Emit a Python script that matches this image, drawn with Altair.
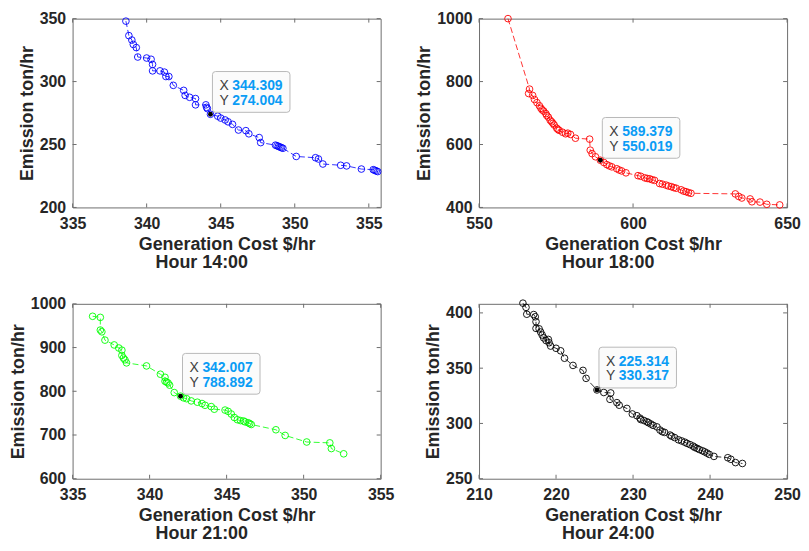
import altair as alt
import pandas as pd

# ---------------- data ----------------
# Hour 14:00 (blue)
cost14 = [338.6, 338.8, 339.0, 339.1, 339.3, 339.4, 340.0, 340.3, 340.4, 340.4,
          340.9, 341.2, 341.3, 341.5, 341.8, 342.5, 342.6, 342.9, 343.3, 343.3,
          344.0, 344.05, 344.1, 344.309, 344.8, 345.0, 345.3, 345.5, 345.8, 346.2,
          346.7, 346.9, 347.6, 347.7, 348.7, 348.8, 348.9, 349.0, 349.1, 349.2,
          350.1, 351.4, 351.6, 351.9, 353.1, 353.5, 354.5, 355.3, 355.4, 355.5, 355.6]
emis14 = [348, 336.5, 333, 329.5, 327, 319.5, 318.7, 317.7, 313.6, 308.5,
          308.5, 307.5, 304, 304, 297, 293, 289, 287.5, 286.5, 281.5,
          281.5, 279.5, 278.5, 274.004, 272.5, 271, 269.5, 268, 266, 261.5,
          261, 258.5, 255.5, 251.5, 249.5, 249, 248.5, 248, 247.5, 247,
          240.5, 239.5, 238.5, 234.5, 233.5, 233, 230.5, 230, 229.5, 229, 228.5]
tip14 = (344.309, 274.004)

# Hour 18:00 (red)
cost18 = [559.4, 566.4, 566.1, 567.4, 568.0, 568.8, 569.6, 570.1, 570.5, 571.0,
          571.7, 572.0, 572.5, 573.1, 573.6, 574.0, 574.4, 575.2, 575.6, 576.0,
          577.1, 578.1, 578.8, 579.7, 581.3, 585.9, 586.1, 586.7, 587.8, 589.379,
          590.5, 591.5, 592.3, 593.1, 594.7, 595.5, 596.3, 597.7, 601.6, 602.5,
          603.8, 604.6, 605.4, 606.2, 607.0, 608.6, 609.5, 610.7, 611.5, 612.4,
          613.2, 614.0, 615.6, 616.4, 617.2, 618.0, 618.8, 633.2, 634.3, 635.3,
          638.0, 638.6, 641.2, 643.4, 647.6]
emis18 = [1000, 776, 762, 756, 743, 733, 723, 715, 710, 706,
          698, 692, 687, 677, 672, 667, 662, 652, 648, 645,
          639, 634, 636, 632, 620, 617, 582, 571, 561, 550.019,
          543, 536, 532, 529, 523, 519, 516, 510, 501, 499,
          494, 492, 491, 488, 486, 476, 474, 471, 468, 466,
          463, 461, 456, 452, 450, 447, 445, 443, 435, 430,
          427, 418, 417, 410, 408]
tip18 = (589.379, 550.019)

# Hour 21:00 (green)
cost21 = [336.3, 336.8, 336.8, 336.9, 337.1, 337.7, 338.0, 338.2, 338.2, 338.3,
          338.4, 338.5, 339.8, 340.7, 341.0, 341.0, 341.1, 341.2, 341.3, 341.6,
          342.007, 342.2, 342.4, 342.7, 343.1, 343.4, 343.6, 344.0, 344.2, 344.9,
          345.1, 345.3, 345.5, 345.7, 345.9, 346.1, 346.2, 346.4, 346.5, 346.6,
          348.2, 348.8, 350.2, 351.7, 351.8, 352.6]
emis21 = [971.5, 969, 940, 936, 917, 906, 899, 894, 882, 876,
          872, 865, 858, 839, 832, 823, 821, 819, 814, 797,
          788.892, 785, 783, 778, 775, 772, 768, 765, 759, 757,
          754, 748, 740, 735, 733, 732, 730, 728, 726, 724,
          712, 699, 684, 682, 669, 657]
tip21 = (342.007, 788.892)

# Hour 24:00 (black)
cost24 = [215.7, 216.1, 216.2, 217.1, 217.3, 217.4, 217.4, 217.8, 218.0, 218.2,
          218.4, 218.7, 219.0, 219.1, 219.3, 220.0, 220.6, 221.1, 222.2, 223.5,
          223.9, 225.314, 226.2, 227.1, 227.0, 227.9, 228.2, 229.2, 229.9, 230.5,
          230.9, 231.0, 231.4, 231.8, 232.0, 232.3, 232.6, 233.1, 233.5, 233.8,
          234.1, 234.8, 235.0, 235.4, 235.9, 236.3, 236.7, 237.0, 237.4, 237.8,
          238.0, 238.3, 238.6, 239.0, 239.3, 239.6, 239.9, 240.5, 242.3, 242.7,
          243.3, 244.2]
emis24 = [408.8, 405, 398.8, 398.5, 396.5, 392, 386, 385.6, 382.7, 380,
          377.4, 375, 376, 373, 370, 368, 365.7, 359, 352.5, 348,
          340.8, 330.317, 328, 327.6, 321.8, 318.8, 316.5, 313.6, 308.6, 307,
          304.8, 303.5, 302.7, 301.5, 300.7, 299.5, 298.3, 296.9, 294, 292.5,
          291.9, 289.5, 288.5, 287.2, 285.2, 284.2, 283.1, 282.0, 280.8, 279.5,
          278.4, 277.5, 276.4, 275.3, 274.3, 273.2, 272, 270.2, 269, 267.6,
          264.6, 263.8]
tip24 = (225.314, 330.317)

hours = ["Hour 14:00", "Hour 18:00", "Hour 21:00", "Hour 24:00"]
colors = ["#0000FF", "#FF0000", "#00FF00", "#000000"]
x_domains = [[335, 355.8], [550, 650], [335, 355], [210, 250]]
y_domains = [[200, 350], [400, 1000], [600, 1000], [250, 408.2]]
x_ticks = [[335, 340, 345, 350, 355], [550, 600, 650], [335, 340, 345, 350, 355],
           [210, 220, 230, 240, 250]]
y_ticks = [[200, 250, 300, 350], [400, 600, 800, 1000], [600, 700, 800, 900, 1000],
           [250, 300, 350, 400]]

# ---------------- styling ----------------
FONT = "Liberation Sans"
TXT = "#262626"
FRAME = "#6e6e6e"
TIPBLUE = "#0A9CF5"
BOX_PATH = ("M-0.92,-0.526 H0.92 Q1,-0.526 1,-0.446 V0.446 Q1,0.526 0.92,0.526 "
            "H-0.92 Q-1,0.526 -1,0.446 V-0.446 Q-1,-0.526 -0.92,-0.526 Z")


def panel(cost, emis, tip, color, xdom, ydom, xt, yt, hour, w, h):
    df = pd.DataFrame({"x": cost, "y": emis, "i": list(range(len(cost)))})
    tipdf = pd.DataFrame({"x": [tip[0]], "y": [tip[1]]})
    xtdf = pd.DataFrame({"x": xt})
    ytdf = pd.DataFrame({"y": yt})
    xs = alt.Scale(domain=xdom, nice=False, zero=False)
    ys = alt.Scale(domain=ydom, nice=False, zero=False)
    xaxis = alt.Axis(values=xt, format="d", title="Generation Cost $/hr", grid=False,
                     ticks=False, tickSize=0, domain=False, labelFlush=False,
                     labelFont=FONT, labelFontSize=16, labelFontWeight="bold",
                     labelColor=TXT, labelPadding=8, titleFont=FONT, titleFontSize=18,
                     titleFontWeight="bold", titleColor=TXT, titlePadding=4)
    yaxis = alt.Axis(values=yt, format="d", title="Emission ton/hr", grid=False,
                     ticks=False, tickSize=0, domain=False, labelFont=FONT,
                     labelFontSize=16, labelFontWeight="bold", labelColor=TXT,
                     labelPadding=7, titleFont=FONT, titleFontSize=18,
                     titleFontWeight="bold", titleColor=TXT, titlePadding=3)
    X = lambda: alt.X("x:Q", scale=xs, axis=xaxis, title="Generation Cost $/hr")
    Y = lambda: alt.Y("y:Q", scale=ys, axis=yaxis, title="Emission ton/hr")

    line = alt.Chart(df).mark_line(color=color, strokeWidth=0.8, strokeDash=[6, 3]).encode(
        x=X(), y=Y(), order="i:Q")
    pts = alt.Chart(df).mark_point(shape="circle", filled=False, size=45, strokeWidth=0.9,
                                   color=color, opacity=1).encode(x=X(), y=Y())
    tb = alt.Chart(xtdf).mark_rule(color=FRAME, strokeWidth=1).encode(
        x=X(), y=alt.value(h), y2=alt.value(h - 4))
    tt = alt.Chart(xtdf).mark_rule(color=FRAME, strokeWidth=1).encode(
        x=X(), y=alt.value(0), y2=alt.value(4))
    tl = alt.Chart(ytdf).mark_rule(color=FRAME, strokeWidth=1).encode(
        y=Y(), x=alt.value(0), x2=alt.value(4))
    tr = alt.Chart(ytdf).mark_rule(color=FRAME, strokeWidth=1).encode(
        y=Y(), x=alt.value(w), x2=alt.value(w - 4))
    dot = alt.Chart(tipdf).mark_point(shape="circle", filled=True, color="#000000",
                                      size=24, opacity=1).encode(x=X(), y=Y())
    box = alt.Chart(tipdf).mark_point(shape=BOX_PATH, size=6084, filled=True,
                                      fill="#fbfbfb", stroke="#b8b8b8", strokeWidth=1,
                                      opacity=1, xOffset=41, yOffset=-22.5).encode(x=X(), y=Y())
    lx = alt.Chart(tipdf).mark_text(text="X", align="left", baseline="middle", dx=9,
                                    dy=-28.5, font=FONT, fontSize=14,
                                    color="#404040").encode(x=X(), y=Y())
    ly = alt.Chart(tipdf).mark_text(text="Y", align="left", baseline="middle", dx=9,
                                    dy=-13.5, font=FONT, fontSize=14,
                                    color="#404040").encode(x=X(), y=Y())
    vx = alt.Chart(tipdf).mark_text(align="left", baseline="middle", dx=22, dy=-28.5,
                                    font=FONT, fontSize=14, fontWeight="bold",
                                    color=TIPBLUE).encode(
        x=X(), y=Y(), text=alt.Text("x:Q", format=".3f"))
    vy = alt.Chart(tipdf).mark_text(align="left", baseline="middle", dx=22, dy=-13.5,
                                    font=FONT, fontSize=14, fontWeight="bold",
                                    color=TIPBLUE).encode(
        x=X(), y=Y(), text=alt.Text("y:Q", format=".3f"))

    return alt.layer(line, pts, tb, tt, tl, tr, dot, box, lx, ly, vx, vy).properties(
        width=w, height=h,
        title=alt.TitleParams(hour, orient="bottom", anchor="middle", frame="group",
                              dx=-25, offset=1, font=FONT, fontSize=18,
                              fontWeight="bold", color=TXT))


W1, W2, H1, H2 = 310, 310, 190, 176
series = [(cost14, emis14, tip14), (cost18, emis18, tip18),
          (cost21, emis21, tip21), (cost24, emis24, tip24)]
panels = []
for k, (c, e, t) in enumerate(series):
    w = W1 if k % 2 == 0 else W2
    h = H1 if k < 2 else H2
    panels.append(panel(c, e, t, colors[k], x_domains[k], y_domains[k],
                        x_ticks[k], y_ticks[k], hours[k], w, h))

chart = alt.concat(*panels, columns=2, spacing={"row": 22, "column": 20}).properties(
    padding=0, background="white"
).configure_view(stroke=FRAME, strokeWidth=1, fill="white")

chart.save("out.html", embed_options={"renderer": "svg", "actions": False})
